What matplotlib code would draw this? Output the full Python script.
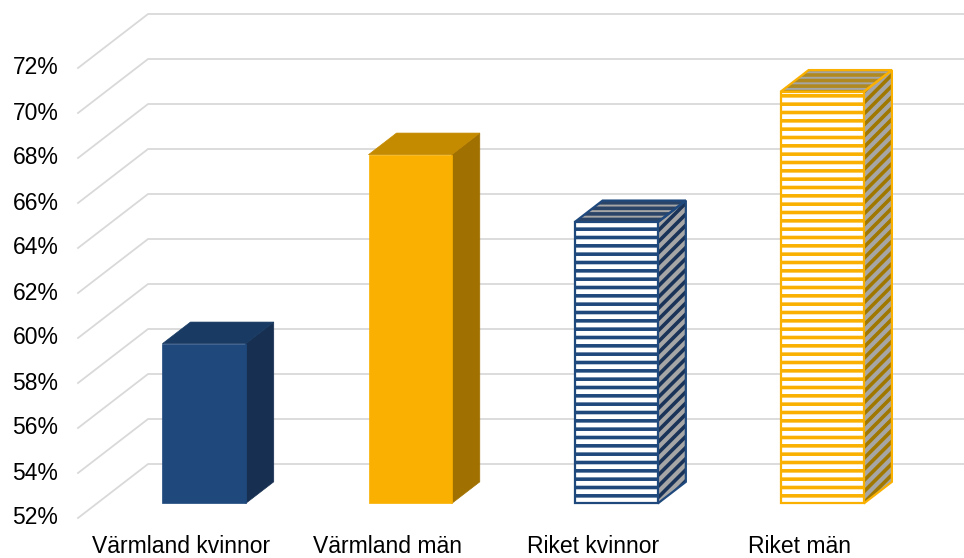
import matplotlib
matplotlib.use("Agg")
import matplotlib.pyplot as plt
from matplotlib.patches import Polygon
import numpy as np

plt.rcParams['font.family'] = ['Liberation Sans', 'DejaVu Sans']
plt.rcParams['hatch.linewidth'] = 2.6

categories = ["Värmland kvinnor", "Värmland män", "Riket kvinnor", "Riket män"]
values = [59.1, 67.5, 64.5, 70.3]
yticks = np.arange(52, 73, 2)
ytick_labels = ["%d%%" % t for t in yticks]

# 3d look: full depth of the floor in data units (x in categories, y in %)
DX, DY = 0.34, 2.4
D0, D1 = 0.27, 0.67  # bar front / back depth fraction
HW = 0.202           # half width of bar front
YMIN, YMAX = 52, 72

# per bar: (face colour, hatch colour, hatch) for front / side / top, plus outline colour
styles = [
    dict(front=("#1f497d", None, None), side=("#172f50", None, None), top=("#183a63", None, None), edge=None),
    dict(front=("#f9b000", None, None), side=("#a07000", None, None), top=("#c48a00", None, None), edge=None),
    dict(front=("white", "#1f497d", "--"), side=("#a6a6a6", "#1a3358", "///"),
         top=("#a6a6a6", "#2a4468", "---"), edge="#1f497d"),
    dict(front=("white", "#f9b000", "--"), side=("#a6a6a6", "#a07800", "///"),
         top=("#a6a6a6", "#b08a20", "---"), edge="#f9b000"),
]

fig = plt.figure(figsize=(9.64, 5.58), dpi=100)
ax = fig.add_axes([78 / 964, 40 / 558, 816 / 964, 450 / 558])
ax.set_xlim(-0.52, 3.44)
ax.set_ylim(YMIN, YMAX)
ax.axis("off")


def pt(x, y, d):
    return (x + d * DX, y + d * DY)


def face(verts, spec, edge, z):
    fc, hc, h = spec
    if h is None:
        ax.add_patch(Polygon(verts, closed=True, facecolor=fc, edgecolor=fc, lw=0.5, zorder=z, clip_on=False))
    else:
        ax.add_patch(Polygon(verts, closed=True, facecolor=fc, edgecolor=hc, hatch=h, lw=0, zorder=z, clip_on=False))
        ax.add_patch(Polygon(verts, closed=True, fill=False, edgecolor=edge, lw=1.6, zorder=z + 0.5, clip_on=False))


xmin, xmax = ax.get_xlim()
# gridlines: floor diagonal + back wall
for t in yticks:
    xs = [xmin, xmin + DX, xmax + DX]
    ys = [t, t + DY, t + DY]
    ax.plot(xs, ys, color="#d9d9d9", lw=1.3, zorder=1, clip_on=False)

for i, (v, st) in enumerate(zip(values, styles)):
    side = [pt(i + HW, YMIN, D0), pt(i + HW, YMIN, D1), pt(i + HW, v, D1), pt(i + HW, v, D0)]
    top = [pt(i - HW, v, D0), pt(i + HW, v, D0), pt(i + HW, v, D1), pt(i - HW, v, D1)]
    front = [pt(i - HW, YMIN, D0), pt(i + HW, YMIN, D0), pt(i + HW, v, D0), pt(i - HW, v, D0)]
    face(side, st["side"], st["edge"], 3)
    face(top, st["top"], st["edge"], 3)
    face(front, st["front"], st["edge"], 4)

# tick labels
for t, lab in zip(yticks, ytick_labels):
    ax.text(xmin - 0.095, t, lab, ha="right", va="center", fontsize=16.5, color="black", clip_on=False)

for i, c in enumerate(categories):
    ax.text(i - 0.02, YMIN - 1.25, c, ha="center", va="center", fontsize=16.5, color="black", clip_on=False)

fig.savefig("out.png", dpi=100)
